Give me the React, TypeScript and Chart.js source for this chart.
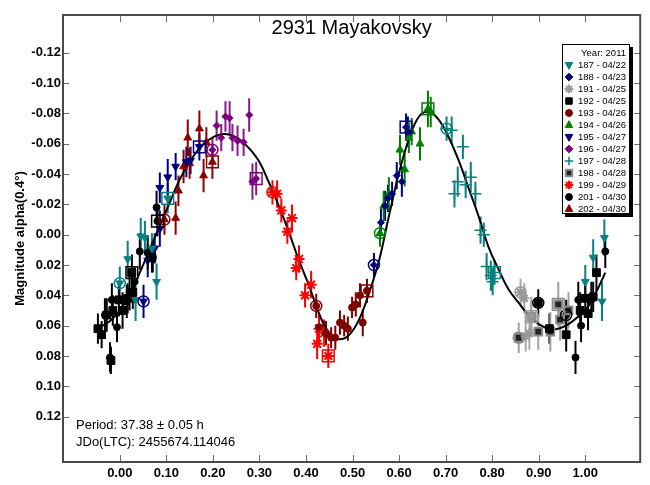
import { useEffect, useRef } from 'react';
import { Chart, registerables } from 'chart.js';

Chart.register(...registerables);

// [rotation phase, magnitude, error]
type Obs = [number, number, number];

const titleText = '2931 Mayakovsky';
const yAxisTitle = 'Magnitude alpha(0.4°)';
const legendHeader = 'Year: 2011';
const periodText = 'Period: 37.38 ± 0.05 h';
const epochText = 'JDo(LTC): 2455674.114046';

const xTickValues = [0, 0.1, 0.2, 0.3, 0.4, 0.5, 0.6, 0.7, 0.8, 0.9, 1.0];
const yTickValues = [-0.12, -0.1, -0.08, -0.06, -0.04, -0.02, 0, 0.02, 0.04, 0.06, 0.08, 0.1, 0.12];

// Fourier fit of the lightcurve
const fitPhase = [
  -0.043, -0.021, 0.0, 0.021, 0.043, 0.064, 0.086, 0.107, 0.128, 0.15, 0.171, 0.193, 0.214, 0.236,
  0.257, 0.278, 0.3, 0.321, 0.343, 0.364, 0.385, 0.407, 0.428, 0.45, 0.471, 0.493, 0.514, 0.535,
  0.557, 0.578, 0.6, 0.621, 0.643, 0.664, 0.685, 0.707, 0.728, 0.749, 0.771, 0.792, 0.814, 0.835,
  0.857, 0.878, 0.9, 0.921, 0.942, 0.964, 0.985, 1.007, 1.028, 1.043,
];
const fitMag = [
  0.061, 0.057, 0.05, 0.04, 0.025, 0.01, -0.006, -0.021, -0.036, -0.048, -0.057, -0.063, -0.066, -0.066,
  -0.063, -0.057, -0.048, -0.034, -0.018, -0.001, 0.017, 0.034, 0.052, 0.065, 0.069, 0.066, 0.056, 0.039,
  0.017, -0.012, -0.041, -0.063, -0.078, -0.081, -0.076, -0.064, -0.049, -0.031, -0.012, 0.008, 0.023, 0.036,
  0.045, 0.053, 0.059, 0.062, 0.062, 0.059, 0.054, 0.047, 0.035, 0.025,
];

const s187: Obs[] = [
  [0.0, 0.032, 0.011], [0.017, 0.016, 0.012], [0.034, 0.043, 0.014], [0.045, 0.001, 0.012],
  [0.054, 0.002, 0.011], [0.069, 0.009, 0.01], [0.079, 0.031, 0.012], [0.103, -0.024, 0.01],
  [1.0, 0.031, 0.011], [1.017, 0.015, 0.012], [1.036, 0.044, 0.013], [1.041, 0.002, 0.012],
];
const s188: Obs[] = [
  [0.546, 0.02, 0.008], [0.561, -0.008, 0.009], [0.57, -0.019, 0.01], [0.576, -0.024, 0.009],
  [0.585, -0.027, 0.008], [0.595, -0.039, 0.009], [0.606, -0.035, 0.01], [0.615, -0.071, 0.009],
  [0.619, -0.068, 0.01],
];
const s191: Obs[] = [
  [0.861, 0.038, 0.009], [0.869, 0.042, 0.01], [0.872, 0.067, 0.01], [0.88, 0.065, 0.011],
  [0.884, 0.054, 0.01],
];
const s192: Obs[] = [
  [-0.047, 0.062, 0.01], [-0.039, 0.066, 0.009], [-0.028, 0.053, 0.011], [-0.019, 0.083, 0.009],
  [-0.015, 0.05, 0.01], [-0.002, 0.043, 0.011], [0.006, 0.05, 0.012], [0.017, 0.042, 0.01],
  [0.028, 0.038, 0.011], [0.026, 0.025, 0.012], [0.069, 0.015, 0.01], [0.899, 0.045, 0.009],
  [0.923, 0.062, 0.01], [0.959, 0.066, 0.011], [0.989, 0.05, 0.012], [1.0, 0.042, 0.01],
  [1.006, 0.052, 0.011], [1.017, 0.041, 0.01], [1.024, 0.025, 0.012],
];
const s193: Obs[] = [
  [0.422, 0.047, 0.008], [0.428, 0.061, 0.007], [0.443, 0.065, 0.008], [0.454, 0.068, 0.007],
  [0.463, 0.068, 0.008], [0.473, 0.058, 0.008], [0.482, 0.06, 0.007], [0.49, 0.062, 0.008],
  [0.499, 0.048, 0.007], [0.507, 0.046, 0.008], [0.516, 0.04, 0.008], [0.522, 0.058, 0.009],
  [0.531, 0.037, 0.008],
];
const s194: Obs[] = [
  [0.559, -0.001, 0.009], [0.567, -0.019, 0.01], [0.578, -0.027, 0.011], [0.602, -0.056, 0.01],
  [0.612, -0.043, 0.011], [0.621, -0.064, 0.01], [0.627, -0.068, 0.009], [0.645, -0.06, 0.011],
  [0.662, -0.083, 0.012], [0.668, -0.081, 0.01],
];
const s195: Obs[] = [
  [0.051, 0.044, 0.011], [0.06, 0.017, 0.011], [0.075, 0.009, 0.01], [0.086, -0.004, 0.012],
  [0.086, -0.031, 0.01], [0.103, -0.038, 0.012], [0.12, -0.045, 0.009], [0.143, -0.048, 0.01],
  [0.152, -0.049, 0.009], [0.171, -0.058, 0.009],
];
const s196: Obs[] = [
  [0.199, -0.056, 0.008], [0.208, -0.072, 0.01], [0.218, -0.064, 0.009], [0.227, -0.078, 0.01],
  [0.236, -0.077, 0.011], [0.242, -0.064, 0.009], [0.253, -0.062, 0.01], [0.266, -0.061, 0.009],
  [0.278, -0.079, 0.011], [0.285, -0.035, 0.012], [0.293, -0.037, 0.011],
];
const s197: Obs[] = [
  [0.702, -0.07, 0.008], [0.713, -0.069, 0.009], [0.737, -0.058, 0.008], [0.726, -0.035, 0.01],
  [0.719, -0.027, 0.009], [0.754, -0.038, 0.01], [0.743, -0.033, 0.009], [0.764, -0.027, 0.008],
  [0.775, -0.003, 0.009], [0.782, 0.0, 0.008], [0.788, 0.021, 0.009], [0.797, 0.027, 0.01],
  [0.805, 0.025, 0.008], [0.801, 0.031, 0.009],
];
const s198: Obs[] = [
  [0.857, 0.068, 0.01], [0.884, 0.054, 0.013], [0.899, 0.064, 0.012], [0.925, 0.064, 0.013],
  [0.946, 0.056, 0.014], [0.942, 0.046, 0.015], [0.964, 0.05, 0.012],
];
const s199: Obs[] = [
  [0.328, -0.028, 0.008], [0.338, -0.027, 0.009], [0.347, -0.016, 0.008], [0.37, -0.011, 0.009],
  [0.36, -0.002, 0.008], [0.385, 0.016, 0.009], [0.379, 0.022, 0.008], [0.411, 0.033, 0.009],
  [0.398, 0.04, 0.008], [0.428, 0.062, 0.009], [0.424, 0.072, 0.01], [0.439, 0.065, 0.009],
  [0.448, 0.08, 0.008],
];
const s201: Obs[] = [
  [-0.032, 0.053, 0.011], [-0.021, 0.081, 0.01], [-0.017, 0.043, 0.011], [-0.006, 0.061, 0.01],
  [0.015, 0.044, 0.011], [0.021, 0.038, 0.012], [0.032, 0.031, 0.01], [0.043, 0.011, 0.012],
  [0.06, 0.012, 0.011], [0.071, 0.015, 0.01], [0.079, -0.018, 0.011], [0.081, -0.009, 0.01],
  [0.959, 0.053, 0.01], [0.979, 0.081, 0.011], [0.985, 0.043, 0.012], [0.991, 0.06, 0.011],
  [1.013, 0.043, 0.012], [1.043, 0.011, 0.011],
];
const s202: Obs[] = [
  [0.096, -0.01, 0.01], [0.12, -0.011, 0.011], [0.126, -0.029, 0.01], [0.137, -0.045, 0.011],
  [0.15, -0.047, 0.01], [0.146, -0.064, 0.012], [0.171, -0.07, 0.012], [0.18, -0.039, 0.011],
  [0.186, -0.061, 0.01], [0.199, -0.048, 0.011],
];

type Mark = 'circle' | 'triangle' | 'triangleDown' | 'diamond' | 'square' | 'cross' | 'star';

interface Session {
  label: string;
  obs: Obs[];
  mark: Mark;
  color: string;
  fill: string;
  bar: string;
  radius: number;
  width: number;
  first: number; // index marked with an open circle
  last: number; // index marked with an open square
}

const TEAL = '#0a8080';
const NAVY = '#00007f';
const MAROON = '#7f0000';

const sessions: Session[] = [
  { label: '187 - 04/22', obs: s187, mark: 'triangleDown', color: TEAL, fill: TEAL, bar: TEAL, radius: 4.5, width: 1, first: 0, last: 7 },
  { label: '188 - 04/23', obs: s188, mark: 'diamond', color: NAVY, fill: NAVY, bar: NAVY, radius: 3.5, width: 1, first: 0, last: 7 },
  { label: '191 - 04/25', obs: s191, mark: 'star', color: '#9a9a9a', fill: '#9a9a9a', bar: '#a8a8a8', radius: 5, width: 2, first: 0, last: 4 },
  { label: '192 - 04/25', obs: s192, mark: 'square', color: '#000000', fill: '#000000', bar: '#000000', radius: 5.5, width: 1, first: 11, last: 9 },
  { label: '193 - 04/26', obs: s193, mark: 'circle', color: MAROON, fill: MAROON, bar: MAROON, radius: 3.5, width: 1, first: 0, last: 12 },
  { label: '194 - 04/26', obs: s194, mark: 'triangle', color: '#007f00', fill: '#007f00', bar: '#007f00', radius: 4.5, width: 1, first: 0, last: 8 },
  { label: '195 - 04/27', obs: s195, mark: 'triangleDown', color: NAVY, fill: NAVY, bar: NAVY, radius: 4.5, width: 1, first: 0, last: 9 },
  { label: '196 - 04/27', obs: s196, mark: 'diamond', color: '#7f007f', fill: '#7f007f', bar: '#8a1a8a', radius: 3.5, width: 1, first: 0, last: 10 },
  { label: '197 - 04/28', obs: s197, mark: 'cross', color: TEAL, fill: TEAL, bar: TEAL, radius: 6, width: 1.5, first: 0, last: 12 },
  { label: '198 - 04/28', obs: s198, mark: 'square', color: '#8c8c8c', fill: '#222222', bar: '#a0a0a0', radius: 5.5, width: 2, first: 0, last: 5 },
  { label: '199 - 04/29', obs: s199, mark: 'star', color: '#ff0000', fill: '#ff0000', bar: '#ff0000', radius: 5.5, width: 2, first: 0, last: 12 },
  { label: '201 - 04/30', obs: s201, mark: 'circle', color: '#000000', fill: '#000000', bar: '#000000', radius: 3.5, width: 1, first: 12, last: 11 },
  { label: '202 - 04/30', obs: s202, mark: 'triangle', color: '#8b0000', fill: '#8b0000', bar: '#8b0000', radius: 4.5, width: 1, first: 0, last: 9 },
];

const FONT = '"Liberation Sans", Arial, sans-serif';

function chartStyle(m: Mark): { pointStyle: string; rotation: number } {
  switch (m) {
    case 'triangleDown':
      return { pointStyle: 'triangle', rotation: 180 };
    case 'diamond':
      return { pointStyle: 'rectRot', rotation: 0 };
    case 'square':
      return { pointStyle: 'rect', rotation: 0 };
    default:
      return { pointStyle: m, rotation: 0 };
  }
}

// Small marker painter for the key box
function paintMark(ctx: CanvasRenderingContext2D, s: Session, x: number, y: number, r: number) {
  ctx.save();
  ctx.fillStyle = s.fill;
  ctx.strokeStyle = s.color;
  ctx.lineWidth = s.width;
  ctx.beginPath();
  switch (s.mark) {
    case 'circle':
      ctx.arc(x, y, r * 0.8, 0, Math.PI * 2);
      ctx.fill();
      ctx.stroke();
      break;
    case 'triangle':
      ctx.moveTo(x, y - r);
      ctx.lineTo(x + r * 0.87, y + r * 0.6);
      ctx.lineTo(x - r * 0.87, y + r * 0.6);
      ctx.closePath();
      ctx.fill();
      ctx.stroke();
      break;
    case 'triangleDown':
      ctx.moveTo(x, y + r);
      ctx.lineTo(x + r * 0.87, y - r * 0.6);
      ctx.lineTo(x - r * 0.87, y - r * 0.6);
      ctx.closePath();
      ctx.fill();
      ctx.stroke();
      break;
    case 'diamond':
      ctx.moveTo(x, y - r * 0.9);
      ctx.lineTo(x + r * 0.9, y);
      ctx.lineTo(x, y + r * 0.9);
      ctx.lineTo(x - r * 0.9, y);
      ctx.closePath();
      ctx.fill();
      ctx.stroke();
      break;
    case 'square': {
      const h = r * 0.75;
      ctx.rect(x - h, y - h, 2 * h, 2 * h);
      ctx.fill();
      ctx.stroke();
      break;
    }
    case 'cross':
      ctx.moveTo(x - r, y);
      ctx.lineTo(x + r, y);
      ctx.moveTo(x, y - r);
      ctx.lineTo(x, y + r);
      ctx.stroke();
      break;
    case 'star': {
      const d = r * 0.72;
      ctx.moveTo(x - r, y);
      ctx.lineTo(x + r, y);
      ctx.moveTo(x, y - r);
      ctx.lineTo(x, y + r);
      ctx.moveTo(x - d, y - d);
      ctx.lineTo(x + d, y + d);
      ctx.moveTo(x - d, y + d);
      ctx.lineTo(x + d, y - d);
      ctx.stroke();
      break;
    }
  }
  ctx.restore();
}

const decorations = {
  id: 'lightcurveDecor',
  beforeDatasetsDraw(chart: any) {
    const { ctx, chartArea, scales } = chart;
    const xs = scales.x;
    const ys = scales.y;
    ctx.save();
    ctx.beginPath();
    ctx.rect(chartArea.left, chartArea.top, chartArea.right - chartArea.left, chartArea.bottom - chartArea.top);
    ctx.clip();
    ctx.lineWidth = 2;
    for (const s of sessions) {
      ctx.strokeStyle = s.bar;
      ctx.beginPath();
      for (const [p, m, e] of s.obs) {
        const px = xs.getPixelForValue(p);
        ctx.moveTo(px, ys.getPixelForValue(m - e));
        ctx.lineTo(px, ys.getPixelForValue(m + e));
      }
      ctx.stroke();
    }
    ctx.restore();
  },
  afterDraw(chart: any) {
    const { ctx, chartArea, scales } = chart;
    const { left, right, top, bottom } = chartArea;
    ctx.save();

    // inward tick marks on all four sides
    ctx.strokeStyle = '#6a6a6a';
    ctx.lineWidth = 1;
    ctx.beginPath();
    for (const t of scales.x.ticks) {
      const px = Math.round(scales.x.getPixelForValue(t.value)) + 0.5;
      ctx.moveTo(px, top);
      ctx.lineTo(px, top + 7);
      ctx.moveTo(px, bottom);
      ctx.lineTo(px, bottom - 7);
    }
    for (const t of scales.y.ticks) {
      const py = Math.round(scales.y.getPixelForValue(t.value)) + 0.5;
      ctx.moveTo(left, py);
      ctx.lineTo(left + 6, py);
      ctx.moveTo(right, py);
      ctx.lineTo(right - 6, py);
    }
    ctx.stroke();

    // frame
    ctx.strokeStyle = '#4a4a4a';
    ctx.lineWidth = 2;
    ctx.strokeRect(left, top, right - left, bottom - top);

    // title
    ctx.fillStyle = '#000';
    ctx.font = `20px ${FONT}`;
    ctx.textAlign = 'center';
    ctx.textBaseline = 'middle';
    ctx.fillText(titleText, (left + right) / 2, 28);

    // period / epoch note
    ctx.font = `13px ${FONT}`;
    ctx.textAlign = 'left';
    ctx.fillText(periodText, 76, 425);
    ctx.fillText(epochText, 76, 442);

    // key box with drop shadow
    const bx = 562;
    const by = 44;
    const bw = 67;
    const bh = 169;
    ctx.fillStyle = '#000';
    ctx.fillRect(bx + 3, by + 3, bw + 1, bh + 1);
    ctx.fillStyle = '#fff';
    ctx.fillRect(bx, by, bw, bh);
    ctx.strokeStyle = '#000';
    ctx.lineWidth = 1;
    ctx.strokeRect(bx + 0.5, by + 0.5, bw, bh);

    ctx.font = `9.5px ${FONT}`;
    ctx.fillStyle = '#000';
    ctx.textBaseline = 'middle';
    ctx.textAlign = 'right';
    ctx.fillText(legendHeader, 626, 53);
    ctx.textAlign = 'left';
    sessions.forEach((s, i) => {
      const ry = 65 + i * 12;
      paintMark(ctx, s, 569, ry, 4.3);
      ctx.fillStyle = '#000';
      ctx.fillText(s.label, 578, ry);
    });
    ctx.restore();
  },
};

export default function App() {
  const canvasRef = useRef<HTMLCanvasElement | null>(null);

  useEffect(() => {
    const canvas = canvasRef.current;
    if (!canvas) return;

    const datasets: any[] = [];

    datasets.push({
      type: 'line',
      label: 'fit',
      data: fitPhase.map((p, i) => ({ x: p, y: fitMag[i] })),
      borderColor: '#000',
      borderWidth: 2,
      pointRadius: 0,
      tension: 0.4,
      fill: false,
      order: 10,
    });

    for (const s of sessions) {
      const st = chartStyle(s.mark);
      datasets.push({
        type: 'scatter',
        label: s.label,
        data: s.obs.map(([p, m]) => ({ x: p, y: m })),
        pointStyle: st.pointStyle,
        rotation: st.rotation,
        pointRadius: s.radius,
        backgroundColor: s.fill,
        borderColor: s.color,
        borderWidth: s.width,
        order: 5,
      });
      const a = s.obs[s.first];
      const b = s.obs[s.last];
      datasets.push({
        type: 'scatter',
        label: s.label + ' start',
        data: [{ x: a[0], y: a[1] }],
        pointStyle: 'circle',
        pointRadius: 5.5,
        backgroundColor: 'rgba(0,0,0,0)',
        borderColor: s.color,
        borderWidth: 1.5,
        order: 1,
      });
      datasets.push({
        type: 'scatter',
        label: s.label + ' end',
        data: [{ x: b[0], y: b[1] }],
        pointStyle: 'rect',
        pointRadius: 8.3,
        backgroundColor: 'rgba(0,0,0,0)',
        borderColor: s.color,
        borderWidth: 1.5,
        order: 1,
      });
    }

    const tickFont = { family: FONT, size: 13, weight: 'bold' as const };

    const chart = new Chart(canvas, {
      type: 'scatter',
      data: { datasets },
      options: {
        animation: false,
        responsive: false,
        events: [],
        layout: { padding: { top: 15, right: 8, bottom: 0, left: 0 } },
        plugins: {
          legend: { display: false },
          tooltip: { enabled: false },
          title: { display: false },
        },
        scales: {
          x: {
            type: 'linear',
            min: -0.122,
            max: 1.118,
            grid: { display: false, drawTicks: false },
            border: { display: false },
            afterBuildTicks: (s: any) => {
              s.ticks = xTickValues.map((v) => ({ value: v }));
            },
            afterFit: (s: any) => {
              s.height = 23;
            },
            ticks: {
              autoSkip: false,
              maxRotation: 0,
              padding: 4,
              color: '#000',
              font: tickFont,
              callback: (v: any) => Number(v).toFixed(2),
            },
          },
          y: {
            type: 'linear',
            reverse: true,
            min: -0.145,
            max: 0.15,
            grid: { display: false, drawTicks: false },
            border: { display: false },
            afterBuildTicks: (s: any) => {
              s.ticks = yTickValues.map((v) => ({ value: v }));
            },
            afterFit: (s: any) => {
              s.width = 63;
            },
            ticks: {
              autoSkip: false,
              padding: 2,
              color: '#000',
              font: tickFont,
              callback: (v: any) => Number(v).toFixed(2),
            },
            title: {
              display: true,
              text: yAxisTitle,
              color: '#000',
              font: tickFont,
              padding: { top: 13, bottom: 0 },
            },
          },
        },
      },
      plugins: [decorations],
    } as any);

    return () => chart.destroy();
  }, []);

  return (
    <div style={{ position: 'fixed', left: 0, top: 0, width: 650, height: 485, background: '#fff' }}>
      <canvas ref={canvasRef} width={650} height={485} style={{ display: 'block' }} />
    </div>
  );
}
